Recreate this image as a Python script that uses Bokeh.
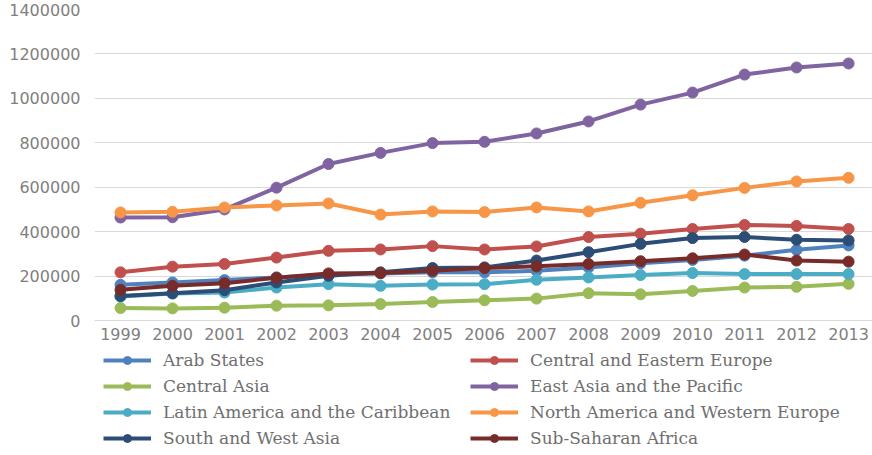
from bokeh.plotting import figure
from bokeh.layouts import column
from bokeh.models import Legend, LegendItem, FixedTicker, Range1d, NumeralTickFormatter
from bokeh.embed import file_html
from bokeh.resources import INLINE

years = list(range(1999, 2014))

arab_states = [160600, 171200, 181800, 194000, 206000, 212000, 216700, 216700,
               224000, 239000, 257600, 272700, 292000, 318000, 338000]
central_eastern_europe = [216700, 242400, 254500, 283300, 313600, 319700, 334800, 319700,
                          333300, 375800, 391000, 412000, 430000, 425800, 412000]
central_asia = [56000, 54500, 57600, 66700, 68200, 74200, 83300, 91000,
                98500, 122700, 118000, 133000, 148500, 151500, 165000]
east_asia_pacific = [463600, 465000, 500000, 598000, 704500, 754500, 798500, 804500,
                     842000, 896000, 972000, 1026000, 1107000, 1139000, 1157000]
latin_america_caribbean = [107600, 121200, 125800, 148500, 163600, 156000, 162100, 163600,
                           183300, 194000, 204500, 213600, 209000, 209000, 209000]
north_america_w_europe = [486400, 489400, 509000, 518000, 527000, 477000, 491000, 487900,
                          509000, 491000, 530000, 563600, 597000, 625800, 642400]
south_west_asia = [110600, 122700, 136400, 171200, 201500, 216700, 236400, 239000,
                   270000, 307600, 345000, 371000, 376000, 363600, 360600]
sub_saharan_africa = [137900, 156000, 168000, 192400, 212000, 213600, 224000, 236000,
                      244000, 254500, 266700, 280000, 297000, 270000, 265000]

series_names = [
    "Arab States",
    "Central and Eastern Europe",
    "Central Asia",
    "East Asia and the Pacific",
    "Latin America and the Caribbean",
    "North America and Western Europe",
    "South and West Asia",
    "Sub-Saharan Africa",
]
series_values = [
    arab_states,
    central_eastern_europe,
    central_asia,
    east_asia_pacific,
    latin_america_caribbean,
    north_america_w_europe,
    south_west_asia,
    sub_saharan_africa,
]
series_colors = ["#4F81BD", "#C0504D", "#9BBB59", "#8064A2",
                 "#4BACC6", "#F79646", "#2C4D75", "#772C2A"]

y_ticks = [0, 200000, 400000, 600000, 800000, 1000000, 1200000, 1400000]

LINE_W = 4
MARK_SIZE = 11

# ---- main chart ----
p = figure(width=872, height=345, output_backend="svg", toolbar_location=None,
           x_range=Range1d(1998.5, 2013.46), y_range=Range1d(0, 1400000),
           min_border_left=94, min_border_right=0, min_border_top=9,
           min_border_bottom=25)
p.outline_line_color = None
p.background_fill_color = "white"
p.border_fill_color = "white"

p.xgrid.grid_line_color = None
p.ygrid.grid_line_color = "#D9D9D9"
p.ygrid.grid_line_width = 1
p.ygrid.ticker = FixedTicker(ticks=y_ticks)

p.yaxis.ticker = FixedTicker(ticks=y_ticks)
p.yaxis.formatter = NumeralTickFormatter(format="0")
p.yaxis.axis_line_color = None
p.yaxis.major_tick_line_color = None
p.yaxis.minor_tick_line_color = None
p.yaxis.major_label_text_font = "DejaVu Sans"
p.yaxis.major_label_text_font_size = "16px"
p.yaxis.major_label_text_color = "#7F7F7F"
p.yaxis.major_label_standoff = 8

p.xaxis.ticker = FixedTicker(ticks=years)
p.xaxis.major_label_overrides = {y: str(y) for y in years}
p.xaxis.axis_line_color = "#D9D9D9"
p.xaxis.major_tick_line_color = None
p.xaxis.minor_tick_line_color = None
p.xaxis.major_label_text_font = "DejaVu Sans"
p.xaxis.major_label_text_font_size = "16px"
p.xaxis.major_label_text_color = "#7F7F7F"
p.xaxis.major_label_standoff = 1

for vals, col in zip(series_values, series_colors):
    p.line(years, vals, line_color=col, line_width=LINE_W)
    p.scatter(years, vals, size=MARK_SIZE, fill_color=col, line_color=col, line_width=1)

# ---- legend strip under the chart ----
leg = figure(width=872, height=110, output_backend="svg", toolbar_location=None,
             x_range=Range1d(0, 1), y_range=Range1d(0, 1),
             min_border=0, x_axis_location=None, y_axis_location=None)
leg.outline_line_color = None
leg.grid.visible = False
leg.border_fill_color = "white"

items = {}
for name, vals, col in zip(series_names, series_values, series_colors):
    # same series as above; they fall outside this strip's ranges so only
    # their legend glyphs appear
    ln = leg.line(years, vals, line_color=col, line_width=LINE_W)
    sc = leg.scatter(years, vals, size=MARK_SIZE - 1, fill_color=col, line_color=col)
    items[name] = LegendItem(label=name, renderers=[ln, sc])

# two columns, filled top to bottom (the strip's frame lines up with the chart's)
legend_order = [0, 2, 4, 6, 1, 3, 5, 7]
legend = Legend(items=[items[series_names[i]] for i in legend_order],
                ncols=2, orientation="vertical", location=(9, 7))
legend.label_text_font = "DejaVu Serif"
legend.label_text_font_size = "17px"
legend.label_text_color = "#6F6F6F"
legend.border_line_color = None
legend.background_fill_alpha = 0
legend.glyph_width = 48
legend.glyph_height = 20
legend.label_height = 20
legend.label_width = 301
legend.label_standoff = 12
legend.spacing = 6
legend.padding = 0
legend.margin = 0
leg.add_layout(legend, "center")

layout = column(p, leg, spacing=0)
open("out.html", "w").write(file_html(layout, INLINE))
